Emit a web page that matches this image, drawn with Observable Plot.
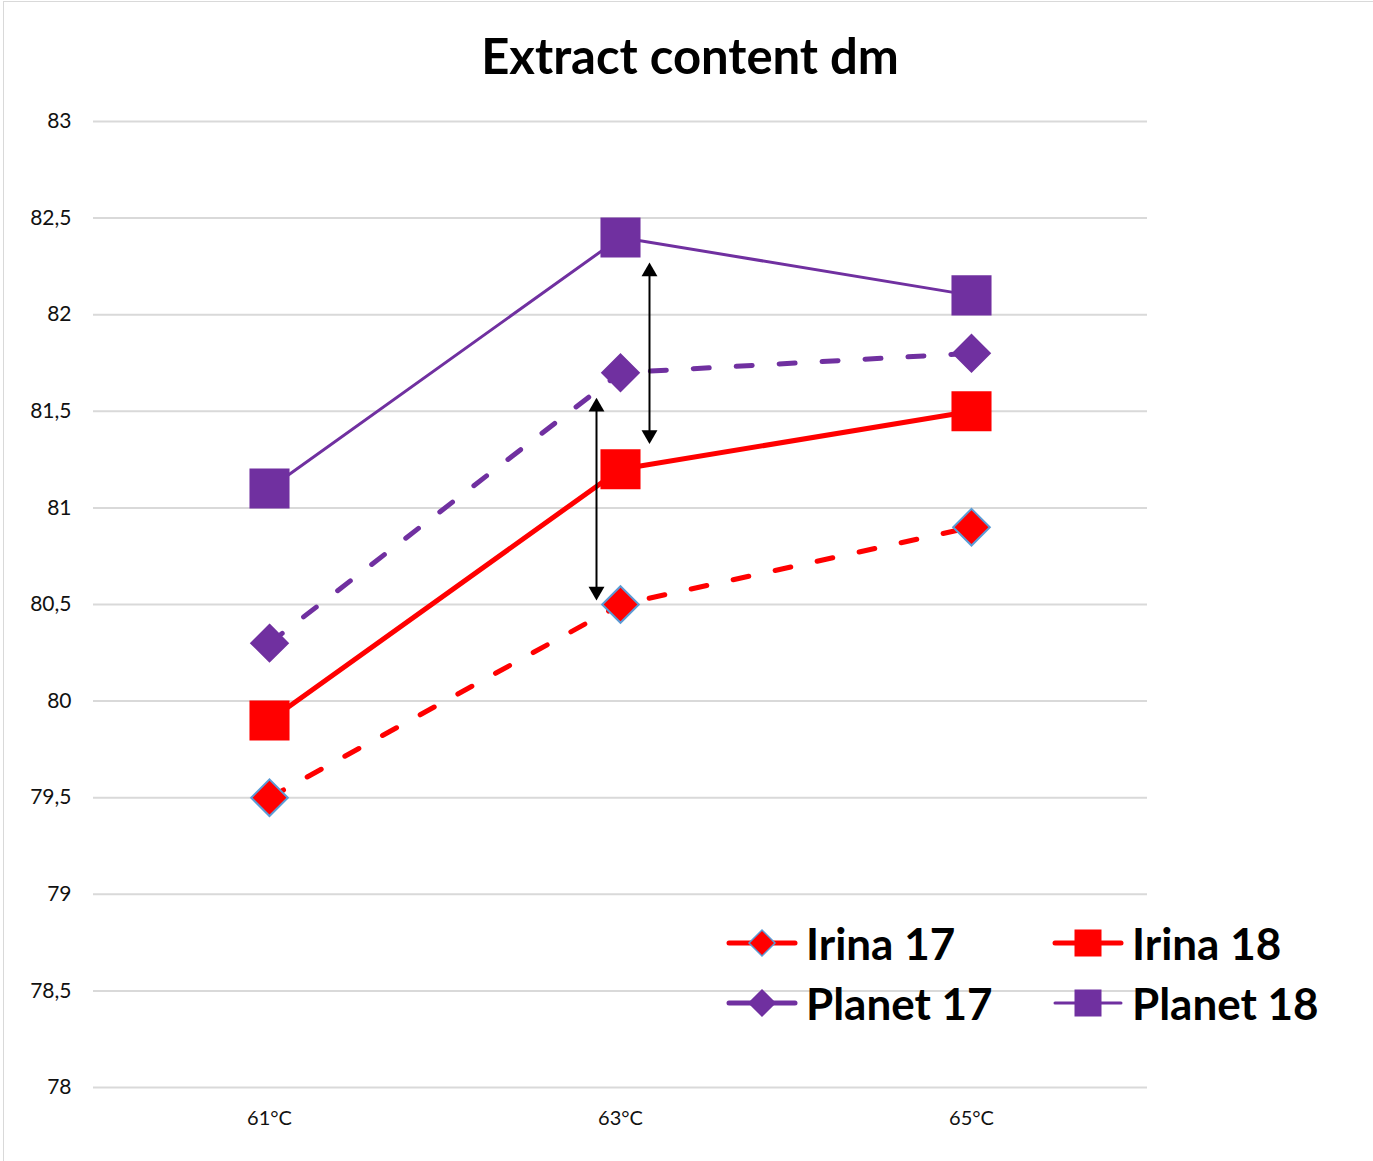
<!DOCTYPE html>
<html>
<head>
<meta charset="utf-8">
<script src="https://cdn.jsdelivr.net/npm/d3@7"></script>
<script src="https://cdn.jsdelivr.net/npm/@observablehq/plot@0.6"></script>
<style>
  html, body { margin: 0; padding: 0; background: #fff; overflow: hidden; }
  #chart { position: relative; width: 1373px; height: 1161px; font-family: Lato, "Open Sans", sans-serif; }
  #frame { position: absolute; left: 3px; top: 1px; width: 1400px; height: 1200px; border: 1.5px solid #d9d9d9; box-sizing: border-box; pointer-events: none; }
  #title { height: 100px; box-sizing: border-box; padding-top: 26px; width: 1380px; text-align: center; font-weight: 700; font-size: 49px; line-height: 1.2; color: #000; }
  #legend { position: absolute; left: 726px; top: 913px; font-weight: 700; font-size: 44px; color: #000; }
  .row { display: flex; height: 60px; align-items: center; }
  .item { display: flex; align-items: center; width: 326px; }
  .item svg { flex: none; margin-right: 8px; }
</style>
</head>
<body>
<div id="chart">
  <div id="title">Extract content dm</div>
  <div id="plot"></div>
  <div id="legend"></div>
  <div id="frame"></div>
</div>
<script>
// ---- data ----
const temps = ["61°C", "63°C", "65°C"];
const irina17 = [79.5, 80.5, 80.9];
const irina18 = [79.9, 81.2, 81.5];
const planet17 = [80.3, 81.7, 81.8];
const planet18 = [81.1, 82.4, 82.1];
const yTicks = [78, 78.5, 79, 79.5, 80, 80.5, 81, 81.5, 82, 82.5, 83];
// difference arrows at 63°C (top value, bottom value)
const arrowA = [{x: "63°C", y1: 82.27, y2: 81.33}];
const arrowB = [{x: "63°C", y1: 81.57, y2: 80.52}];
const seriesNames = ["Irina 17", "Irina 18", "Planet 17", "Planet 18"];

const RED = "#ff0000", PURPLE = "#7030a0", BLUE = "#5b9bd5";
const rows = vals => temps.map((t, i) => ({t, v: vals[i]}));
const fmt = d => String(d).replace(".", ",");

function arrowMarks(data, dx) {
  return [
    Plot.ruleX(data, {x: "x", y1: "y1", y2: "y2", dx, stroke: "#000", strokeWidth: 2, insetTop: 6, insetBottom: 6}),
    Plot.dot(data, {x: "x", y: "y1", dx, dy: 9.2, symbol: "triangle", r: 5.9, fill: "#000", stroke: "none"}),
    Plot.dot(data, {x: "x", y: "y2", dx, dy: -9.2, symbol: "triangle", rotate: 180, r: 5.9, fill: "#000", stroke: "none"})
  ];
}

const plot = Plot.plot({
  width: 1373,
  height: 1061,
  marginLeft: 93,
  marginRight: 226,
  marginTop: 21,
  marginBottom: 74,
  style: {fontFamily: "Lato, 'Open Sans', sans-serif", fontSize: "20px", color: "#111", background: "transparent"},
  x: {type: "point", domain: temps, padding: 0.5, label: null, tickSize: 0, tickPadding: 23},
  y: {domain: [78, 83], ticks: yTicks, tickFormat: fmt, tickSize: 0, tickPadding: 22, label: null},
  marks: [
    Plot.ruleY(yTicks, {stroke: "#d9d9d9", strokeWidth: 2}),
    Plot.axisY({ticks: yTicks, tickFormat: fmt, tickSize: 0, tickPadding: 22, label: null, fontSize: 21}),
    Plot.line(rows(irina17), {x: "t", y: "v", stroke: RED, strokeWidth: 5, strokeDasharray: "16,27", strokeLinecap: "round"}),
    Plot.line(rows(irina18), {x: "t", y: "v", stroke: RED, strokeWidth: 5}),
    Plot.line(rows(planet17), {x: "t", y: "v", stroke: PURPLE, strokeWidth: 5, strokeDasharray: "16,27", strokeLinecap: "round"}),
    Plot.line(rows(planet18), {x: "t", y: "v", stroke: PURPLE, strokeWidth: 3}),
    Plot.dot(rows(irina17), {x: "t", y: "v", symbol: "diamond2", r: 16.5, fill: RED, stroke: BLUE, strokeWidth: 2}),
    Plot.dot(rows(irina18), {x: "t", y: "v", symbol: "square", r: 22.6, fill: RED, stroke: "none"}),
    Plot.dot(rows(planet17), {x: "t", y: "v", symbol: "diamond2", r: 16.5, fill: PURPLE, stroke: PURPLE, strokeWidth: 2}),
    Plot.dot(rows(planet18), {x: "t", y: "v", symbol: "square", r: 22.6, fill: PURPLE, stroke: "none"}),
    ...arrowMarks(arrowA, 29),
    ...arrowMarks(arrowB, -24)
  ]
});
document.getElementById("plot").appendChild(plot);

// ---- legend ----
const legendStyles = {
  "Irina 17": {color: RED, width: 5, marker: "diamond", mstroke: BLUE},
  "Irina 18": {color: RED, width: 5, marker: "square"},
  "Planet 17": {color: PURPLE, width: 5, marker: "diamond", mstroke: PURPLE},
  "Planet 18": {color: PURPLE, width: 3, marker: "square"}
};
function swatch(name) {
  const s = legendStyles[name];
  const m = s.marker === "diamond"
    ? `<path d="M36,2 L49,15 L36,28 L23,15 Z" fill="${s.color}" stroke="${s.mstroke}" stroke-width="1.5"/>`
    : `<rect x="${36 - 13.5}" y="1.5" width="27" height="27" fill="${s.color}"/>`;
  return `<svg width="72" height="30" viewBox="0 0 72 30"><line x1="3" y1="15" x2="69" y2="15" stroke="${s.color}" stroke-width="${s.width}" stroke-linecap="round"/>${m}</svg>`;
}
const legend = document.getElementById("legend");
legend.innerHTML = [[seriesNames[0], seriesNames[1]], [seriesNames[2], seriesNames[3]]]
  .map(r => `<div class="row">${r.map(n => `<div class="item">${swatch(n)}<span>${n}</span></div>`).join("")}</div>`).join("");
</script>
</body>
</html>
